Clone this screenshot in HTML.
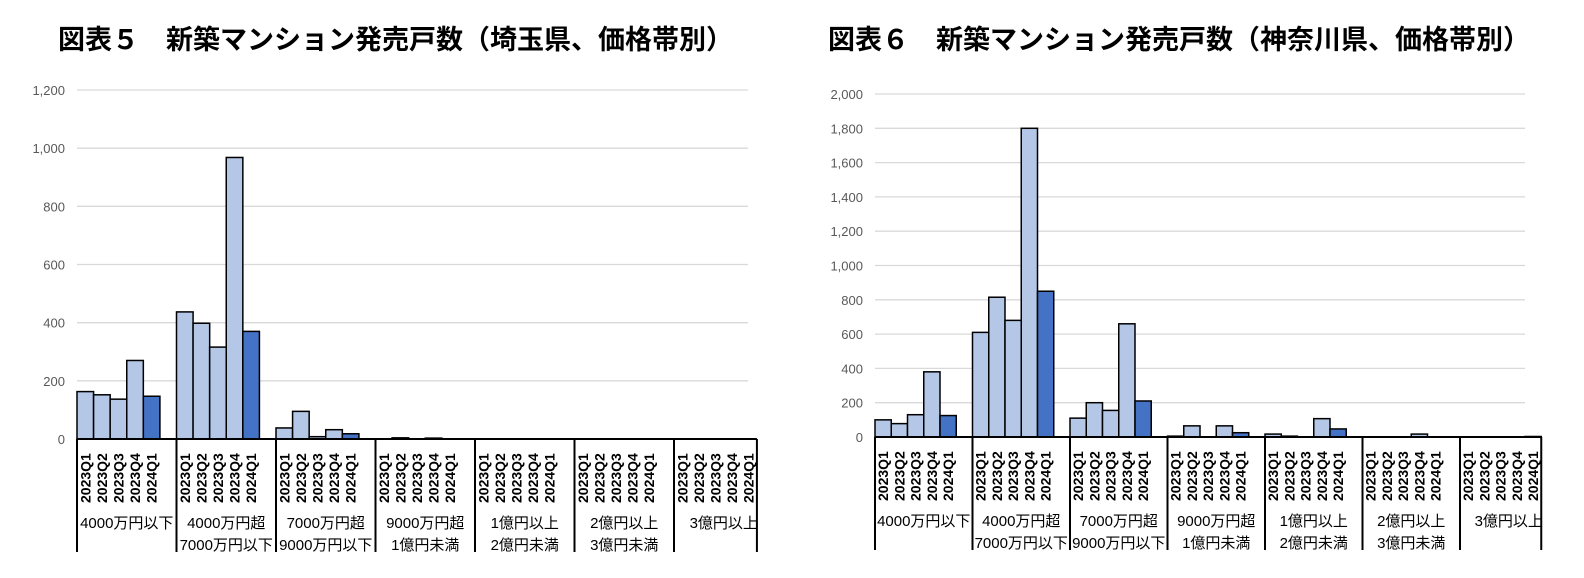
<!DOCTYPE html>
<html><head><meta charset="utf-8">
<style>
body{margin:0;background:#fff;width:1584px;height:578px;overflow:hidden;font-family:"Liberation Sans","Noto Sans CJK JP",sans-serif;}
.title{position:absolute;top:18px;font-size:27px;font-weight:bold;color:#000;white-space:nowrap;font-family:"Noto Sans CJK JP","Liberation Sans",sans-serif;}
svg{position:absolute;left:0;top:0}
</style></head><body>
<div class="title" style="left:58px">図表５　新築マンション発売戸数（埼玉県、価格帯別）</div>
<div class="title" style="left:828px">図表６　新築マンション発売戸数（神奈川県、価格帯別）</div>
<svg id="s" width="1584" height="578"></svg>
<script>
const groupsA = [["4000万円以下",""],["4000万円超","7000万円以下"],["7000万円超","9000万円以下"],["9000万円超","1億円未満"],["1億円以上","2億円未満"],["2億円以上","3億円未満"],["3億円以上",""]];
const quarters = ["2023Q1","2023Q2","2023Q3","2023Q4","2024Q1"];
const saitamaValues = [[163,152,137,270,147],[437,398,316,968,370],[38,95,8,32,18],[0,4,0,3,0],[0,0,0,0,0],[0,0,0,0,0],[0,0,0,0,0]];
const kanagawaValues = [[100,78,130,380,125],[610,815,680,1800,850],[110,200,155,660,210],[5,65,0,65,25],[17,5,0,107,47],[0,0,0,17,0],[0,0,0,0,3]];
const saitamaTicks = [0,200,400,600,800,1000,1200];
const kanagawaTicks = [0,200,400,600,800,1000,1200,1400,1600,1800,2000];

const NS="http://www.w3.org/2000/svg";
const svg=document.getElementById('s');
function mk(tag,attrs,parent){const e=document.createElementNS(NS,tag);for(const k in attrs)e.setAttribute(k,attrs[k]);(parent||svg).appendChild(e);return e;}

function chart(cfg){
  const g=mk('g',{});
  
  
  const max=cfg.ticks[cfg.ticks.length-1];
  const y=v=>cfg.y0-(v/max)*(cfg.y0-cfg.yTop);
  const bw=cfg.stride/6;
  const xEnd=cfg.x0+cfg.stride*(cfg.values.length-1)+bw*5;
  cfg.ticks.forEach(t=>{
    if(t>0){const l=mk('line',{x1:cfg.x0,x2:cfg.gridEnd,y1:y(t),y2:y(t),stroke:'#d9d9d9','stroke-width':1.3},g);
      }
    const tx=mk('text',{x:cfg.x0-12,y:y(t)+5,'text-anchor':'end','font-size':13,fill:'#595959'},g);
    tx.textContent=t.toLocaleString('en-US');
    
  });
  cfg.values.forEach((grp,gi)=>{
    const gx=cfg.x0+gi*cfg.stride;
    grp.forEach((v,qi)=>{
      const bx=gx+qi*bw;
      if(v>0){const r=mk('rect',{x:bx,y:y(v),width:bw,height:cfg.y0-y(v),fill:qi==4?'#4472c4':'#b4c7e7',stroke:'#000','stroke-width':1.5},g);
        }
      const t=mk('text',{transform:`translate(${bx+bw/2+5},${cfg.y0+64}) rotate(-90)`,'font-size':14,'font-weight':'bold',fill:'#000'},g);
      t.textContent=quarters[qi];
      
    });
    const sx=mk('line',{x1:gx,x2:gx,y1:cfg.y0,y2:cfg.lineBottom,stroke:'#000','stroke-width':2},g);
    
    groupsA[gi].forEach((lab,li)=>{
      if(!lab)return;
      const t=mk('text',{x:gx+cfg.stride/2,y:cfg.y0+89+li*22,'text-anchor':'middle','font-size':15,fill:'#000'},g);
      t.textContent=lab;
      
    });
  });
  const ex=mk('line',{x1:xEnd,x2:xEnd,y1:cfg.y0,y2:cfg.lineBottom,stroke:'#000','stroke-width':2},g);
  
  const ax=mk('line',{x1:cfg.x0,x2:xEnd,y1:cfg.y0,y2:cfg.y0,stroke:'#000','stroke-width':2},g);
  
}
chart({name:'chart5-saitama',values:saitamaValues,ticks:saitamaTicks,x0:77,stride:99.5,y0:439,yTop:90,gridEnd:748,lineBottom:552});
chart({name:'chart6-kanagawa',values:kanagawaValues,ticks:kanagawaTicks,x0:875,stride:97.5,y0:437,yTop:94,gridEnd:1525,lineBottom:550});
</script>
</body></html>
